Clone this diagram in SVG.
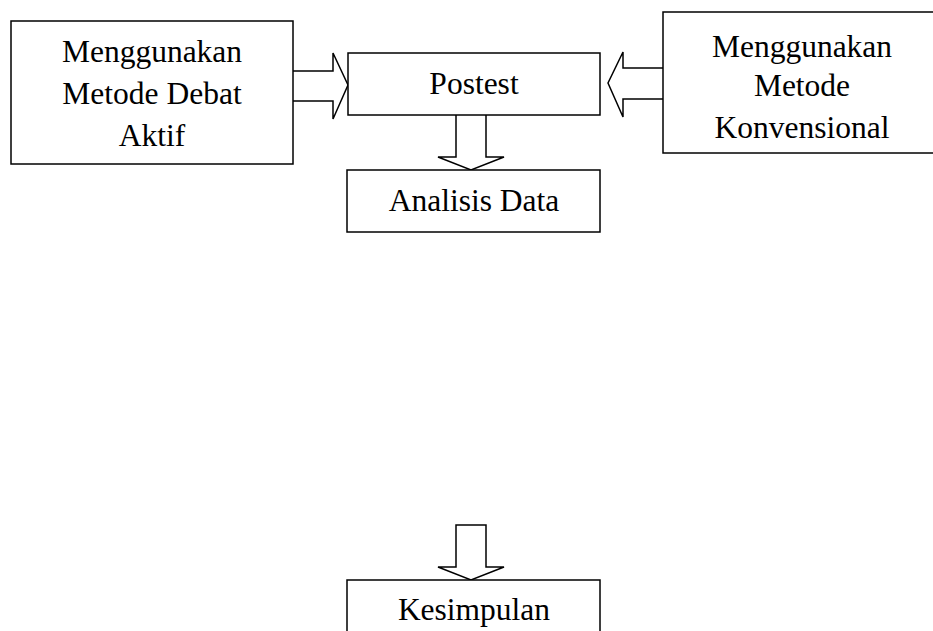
<svg xmlns="http://www.w3.org/2000/svg" width="933" height="631" viewBox="0 0 933 631">
<style>
.box{fill:#fff;stroke:#000;stroke-width:1.5}
.arr{fill:#fff;stroke:#000;stroke-width:1.5;stroke-linejoin:miter}
text{font-family:"Liberation Serif","Times New Roman",serif;font-size:31.5px;fill:#000;text-anchor:middle}
</style>
<rect width="933" height="631" fill="#fff"/>
<g id="connectors">
<path class="arr" d="M293,71 H333 V53 L348,85 L333,119 V101 H293"/>
<path class="arr" d="M663,68 H623 V52 L608,83 L623,117 V99 H663"/>
<path class="arr" d="M456,115 V157 H438 L471,170 L504,157 H486 V115"/>
<path class="arr" d="M456,525 V567 H438 L471,580 L504,567 H486 V525 Z"/>
</g>
<g id="node-debat">
<rect class="box" x="11" y="21" width="282" height="143"/>
<text x="152" y="62">Menggunakan</text>
<text x="152" y="104">Metode Debat</text>
<text x="152" y="146">Aktif</text>
</g>
<g id="node-postest">
<rect class="box" x="348" y="53" width="252" height="62"/>
<text x="474" y="94">Postest</text>
</g>
<g id="node-konvensional">
<rect class="box" x="663" y="12" width="280" height="141"/>
<text x="802" y="57">Menggunakan</text>
<text x="802" y="96">Metode</text>
<text x="802" y="138">Konvensional</text>
</g>
<g id="node-analisis">
<rect class="box" x="347" y="170" width="253" height="62"/>
<text x="474" y="211">Analisis Data</text>
</g>
<g id="node-kesimpulan">
<rect class="box" x="347" y="580" width="253" height="70"/>
<text x="474" y="620">Kesimpulan</text>
</g>
</svg>
